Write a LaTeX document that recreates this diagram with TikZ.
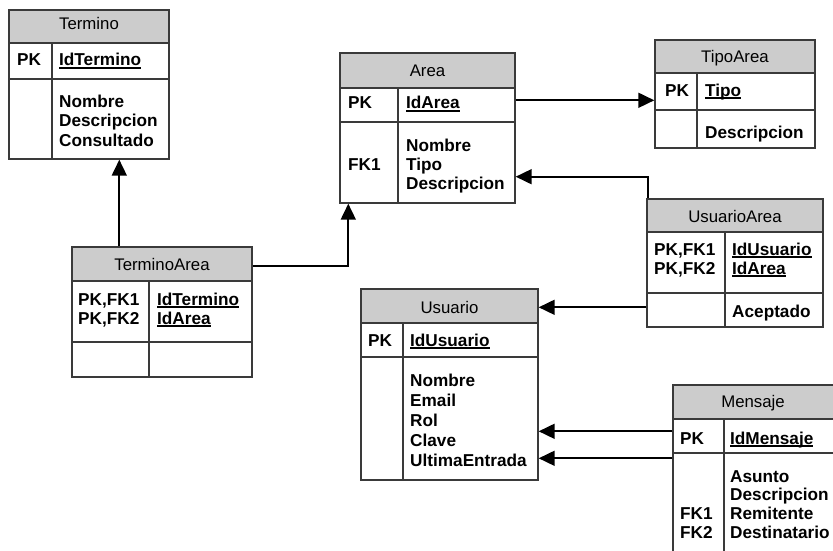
\documentclass[tikz,border=0pt]{standalone}
\usepackage{fontspec}
\setmainfont{Liberation Sans}
\usetikzlibrary{arrows.meta,fit}

\definecolor{hdrgray}{HTML}{CCCCCC}
\definecolor{rulegray}{HTML}{3A3A3A}

% underlined key attribute with a heavier rule
\newcommand\keyattr[1]{\setbox0\hbox{#1}\rlap{\rule[-2.6pt]{\wd0}{1.3pt}}\box0}

% entity box: name, x1, y1, x2, y2, header bottom, key row bottom, column divider
\newcommand\entitybox[8]{%
  \fill[hdr] (#2,#3) rectangle (#4,#6);
  \draw[gridline] (#2,#6) -- (#4,#6) (#2,#7) -- (#4,#7) (#8,#6) -- (#8,#5);
  \node[tbl, fit={(#2,#3) (#4,#5)}] (#1) {};
}

\tikzset{
  x=1pt, y=-1pt,
  tbl/.style={draw=rulegray, line width=1.4pt, inner sep=0pt},
  hdr/.style={fill=hdrgray},
  gridline/.style={draw=rulegray, line width=1.4pt},
  ttl/.style={font=\fontsize{16.8}{19}\selectfont, anchor=base, inner sep=0pt},
  fld/.style={font=\bfseries\fontsize{17.2}{19}\selectfont, anchor=base west, inner sep=0pt},
  fk/.style={draw=black, line width=1.8pt, -{Triangle[length=16pt,width=15pt]}}
}

\begin{document}
\begin{tikzpicture}
\clip (0,0) rectangle (833,551);
\fill[white] (0,0) rectangle (833,551);

% ---------- Termino
\entitybox{termino}{9}{10}{169}{159}{43}{79}{52}
\node[ttl] (termino-t) at (89,30) {Termino};
\node[fld] (termino-pk) at (17,66) {PK};
\node[fld] (termino-k) at (59,66) {\keyattr{IdTermino}};
\foreach \f [count=\i] in {Nombre,Descripcion,Consultado}
  \node[fld] (termino-f\i) at (59,{107+19.5*(\i-1)}) {\f};

% ---------- Area
\entitybox{area}{340}{53}{515}{203}{88}{122}{398}
\node[ttl] (area-t) at (427.5,77) {Area};
\node[fld] (area-pk) at (348,109) {PK};
\node[fld] (area-k) at (406,109) {\keyattr{IdArea}};
\node[fld] (area-fk) at (348,170) {FK1};
\foreach \f [count=\i] in {Nombre,Tipo,Descripcion}
  \node[fld] (area-f\i) at (406,{151+19*(\i-1)}) {\f};

% ---------- TipoArea
\entitybox{tipoarea}{655}{40}{815}{148}{73}{110}{697}
\node[ttl] (tipoarea-t) at (735,63) {TipoArea};
\node[fld] (tipoarea-pk) at (665,96) {PK};
\node[fld] (tipoarea-k) at (705,96) {\keyattr{Tipo}};
\node[fld] (tipoarea-f1) at (705,138) {Descripcion};

% ---------- TerminoArea
\entitybox{terminoarea}{72}{247}{252}{377}{281}{342}{149}
\node[ttl] (terminoarea-t) at (162,270) {TerminoArea};
\node[fld] (terminoarea-pk1) at (78,305) {PK,FK1};
\node[fld] (terminoarea-pk2) at (78,324) {PK,FK2};
\node[fld] (terminoarea-k1) at (157,305) {\keyattr{IdTermino}};
\node[fld] (terminoarea-k2) at (157,324) {\keyattr{IdArea}};

% ---------- UsuarioArea
\entitybox{usuarioarea}{647}{199}{823}{327}{232}{293}{725}
\node[ttl] (usuarioarea-t) at (735,222) {UsuarioArea};
\node[fld] (usuarioarea-pk1) at (654,255) {PK,FK1};
\node[fld] (usuarioarea-pk2) at (654,274) {PK,FK2};
\node[fld] (usuarioarea-k1) at (732,255) {\keyattr{IdUsuario}};
\node[fld] (usuarioarea-k2) at (732,274) {\keyattr{IdArea}};
\node[fld] (usuarioarea-f1) at (732,317) {Aceptado};

% ---------- Usuario
\entitybox{usuario}{361}{289}{538}{480}{323}{357}{403}
\node[ttl] (usuario-t) at (449.5,313) {Usuario};
\node[fld] (usuario-pk) at (368,346) {PK};
\node[fld] (usuario-k) at (410,346) {\keyattr{IdUsuario}};
\foreach \f [count=\i] in {Nombre,Email,Rol,Clave,UltimaEntrada}
  \node[fld] (usuario-f\i) at (410,{386.5+20*(\i-1)}) {\f};

% ---------- Mensaje
\entitybox{mensaje}{673}{385}{834}{570}{419}{453}{724}
\node[ttl] (mensaje-t) at (753,407) {Mensaje};
\node[fld] (mensaje-pk) at (680,444) {PK};
\node[fld] (mensaje-k) at (730,444) {\keyattr{IdMensaje}};
\node[fld] (mensaje-fk1) at (680,519.5) {FK1};
\node[fld] (mensaje-fk2) at (680,538) {FK2};
\foreach \f [count=\i] in {Asunto,Descripcion,Remitente,Destinatario}
  \node[fld] (mensaje-f\i) at (730,{482+18.7*(\i-1)}) {\f};

% ---------- relationships
\draw[fk] ([xshift=48pt]terminoarea.north west) -- ([xshift=48pt]terminoarea.north west |- termino.south);
\draw[fk] ([yshift=-20pt]terminoarea.north east) -| ([xshift=9pt]area.south west);
\draw[fk] ([yshift=-48pt]area.north east) coordinate (ta) -- (ta -| tipoarea.west);
\draw[fk] ([xshift=2pt]usuarioarea.north west) |- ([yshift=27pt]area.south east);
\draw[fk] ([yshift=-109pt]usuarioarea.north west) coordinate (ua) -- (ua -| usuario.east);
\draw[fk] ([yshift=-47pt]mensaje.north west) coordinate (m1) -- (m1 -| usuario.east);
\draw[fk] ([yshift=-74pt]mensaje.north west) coordinate (m2) -- (m2 -| usuario.east);
\end{tikzpicture}
\end{document}
